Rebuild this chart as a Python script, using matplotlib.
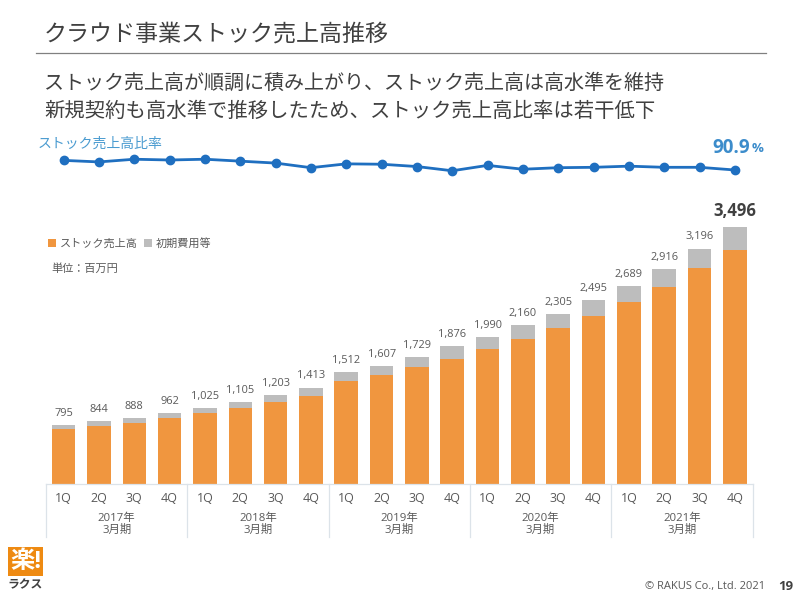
import matplotlib
matplotlib.use('Agg')
import matplotlib.pyplot as plt
from matplotlib.patches import Rectangle

plt.rcParams['font.family'] = ['Open Sans', 'Noto Sans CJK JP', 'DejaVu Sans']

W, H = 797, 594

quarters = ['1Q', '2Q', '3Q', '4Q'] * 5
years = ['2017年', '2018年', '2019年', '2020年', '2021年']
# printed labels; the 2018 4Q bar is drawn shorter than its label says
labels = [795, 844, 888, 962, 1025, 1105, 1203, 1413, 1512, 1607,
          1729, 1876, 1990, 2160, 2305, 2495, 2689, 2916, 3196, 3496]
totals = [795, 844, 888, 960, 1025, 1103, 1203, 1303, 1513, 1600,
          1724, 1873, 1987, 2158, 2303, 2490, 2689, 2916, 3196, 3496]
stock = [736, 782, 827, 887, 955, 1027, 1109, 1190, 1395, 1476,
         1581, 1698, 1830, 1962, 2116, 2283, 2473, 2669, 2928, 3177]
ratio = [93.4, 93.0, 93.7, 93.5, 93.7, 93.2, 92.7, 91.5, 92.5, 92.4,
         91.8, 90.7, 92.1, 91.1, 91.5, 91.6, 91.9, 91.6, 91.6, 90.9]

ORANGE = '#F0963F'
GREY = '#BDBDBD'
BLUE = '#1F6FC0'
TEXT = '#404040'
LABEL = '#595959'


def px_axes(fig, left, top, right, bottom):
    return fig.add_axes([left / W, 1 - bottom / H, (right - left) / W, (bottom - top) / H])


fig = plt.figure(figsize=(W / 100, H / 100), dpi=100)

# overlay in pixel coordinates for the slide furniture
bg = px_axes(fig, 0, 0, W, H)
bg.set_xlim(0, W)
bg.set_ylim(H, 0)
bg.axis('off')

bg.text(44, 35, 'クラウド事業ストック売上高推移', fontsize=16.6, color=TEXT, va='center')
bg.plot([36, 766], [52.5, 52.5], color='#808080', lw=0.9)
bg.text(44, 84, 'ストック売上高が順調に積み上がり、ストック売上高は高水準を維持',
        fontsize=14.45, color=TEXT, va='center')
bg.text(44, 112, '新規契約も高水準で推移したため、ストック売上高比率は若干低下',
        fontsize=14.63, color=TEXT, va='center')
bg.text(38, 144, 'ストック売上高比率', fontsize=10, color='#4A9BD0', va='center')
bg.text(712, 148, '90.9', fontsize=13.5, color='#3C8CCB', va='center', fontweight='bold')
bg.text(752, 149, '%', fontsize=9.5, color='#3C8CCB', va='center', fontweight='bold')
bg.text(51, 269, '単位：百万円', fontsize=8, color=LABEL, va='center')

# logo
bg.add_patch(Rectangle((8, 547), 35, 29, color='#EE8A12', lw=0))
bg.text(25.5, 561.5, '楽!', fontsize=17.5, color='white', ha='center', va='center', fontweight='bold')
bg.text(25.5, 585, 'ラクス', fontsize=8.5, color='#404040', ha='center', va='center', fontweight='bold')

bg.text(645, 586, '© RAKUS Co., Ltd. 2021', fontsize=8, color=LABEL, va='center')
bg.text(778, 586, '19', fontsize=9.5, color=TEXT, va='center', fontweight='bold')

# bars
ax = px_axes(fig, 46, 200, 752.5, 483.5)
ax.patch.set_alpha(0)
x = list(range(len(totals)))
other = [t - s for t, s in zip(totals, stock)]
b1 = ax.bar(x, stock, width=0.667, color=ORANGE, label='ストック売上高')
b2 = ax.bar(x, other, width=0.667, bottom=stock, color=GREY, label='初期費用等')
ax.set_xlim(-0.5, 19.5)
ax.set_ylim(0, 3857)
ax.set_yticks([])
for s in ['top', 'left', 'right']:
    ax.spines[s].set_visible(False)
ax.spines['bottom'].set_color('#DCE3E9')
ax.spines['bottom'].set_linewidth(0.9)
ax.set_xticks(x)
ax.set_xticklabels(quarters, fontsize=9, color=LABEL)
ax.tick_params(axis='x', length=0, pad=6)

for i, (t, lab) in enumerate(zip(totals, labels)):
    if i == len(totals) - 1:
        ax.text(i, t + 205, f'{lab:,}', ha='center', va='center', fontsize=12,
                fontweight='bold', color=TEXT)
    else:
        ax.text(i, t + 160, f'{lab:,}', ha='center', va='center', fontsize=7.9, color=LABEL)

# fiscal year groups below the axis
trans = ax.get_xaxis_transform()
for k in range(6):
    ax.plot([k * 4 - 0.5] * 2, [0, -53.5 / 283.5], transform=trans, color='#DCE3E9',
            lw=0.9, clip_on=False)
for k, yr in enumerate(years):
    ax.text(k * 4 + 1.5, -34.5 / 283.5, yr, transform=trans, ha='center', va='center',
            fontsize=8.2, color=LABEL)
    ax.text(k * 4 + 1.5, -47 / 283.5, '3月期', transform=trans, ha='center', va='center',
            fontsize=8.2, color=LABEL)

leg = ax.legend(handles=[b1, b2], ncol=2, frameon=False, fontsize=8, loc='upper left',
                bbox_to_anchor=(0.003, 0.862), handlelength=0.75, handleheight=0.75,
                handletextpad=0.35, columnspacing=0.5, borderaxespad=0, borderpad=0,
                labelcolor=LABEL)

# ratio line
ax2 = px_axes(fig, 46, 150, 752.5, 180)
ax2.patch.set_alpha(0)
ax2.plot(x, ratio, color=BLUE, lw=2.0, marker='o', ms=6)
ax2.set_xlim(-0.5, 19.5)
ax2.set_ylim(90.9 - 10 * 0.26, 90.9 + 20 * 0.26)
ax2.axis('off')

fig.savefig('out.png', dpi=100)
